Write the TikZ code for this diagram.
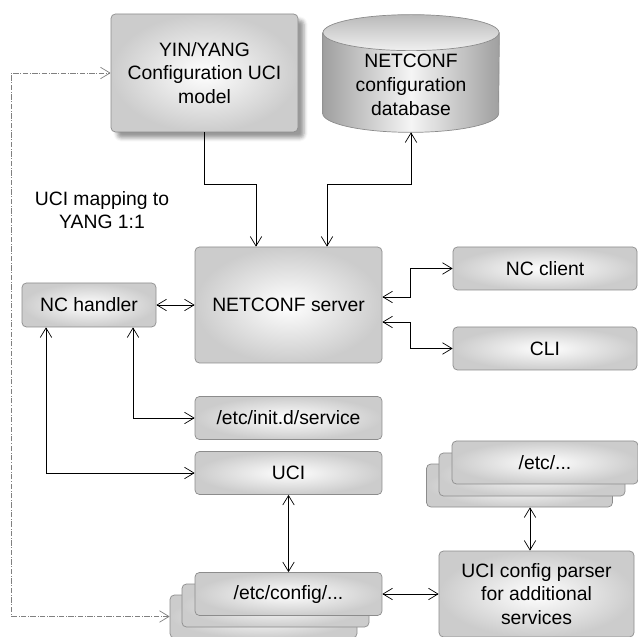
\documentclass[tikz,border=0pt]{standalone}
\usepackage{fontspec}
\setmainfont{Liberation Sans}
\usetikzlibrary{positioning,arrows.meta,backgrounds,shadows.blur}
\tikzstyle{bx}=[draw=gray!90, rounded corners=2.5pt, shade, inner color=white, outer color=gray!40, align=center, font=\fontsize{11}{13.5}\selectfont]
\tikzstyle{wide}=[minimum width=3.74cm, minimum height=0.86cm]
\tikzstyle{dbbody}=[draw=gray!90, left color=gray!75, right color=gray!75, middle color=gray!8]

\begin{document}
\begin{tikzpicture}[auto,>={Straight Barb[length=1.9mm,width=2.3mm]}, thin]
\useasboundingbox (0,0) rectangle (12.76,-12.74);

\node[bx, minimum width=3.74cm, minimum height=2.36cm, blur shadow={shadow xshift=1.2mm, shadow yshift=-1.2mm}] (yin) at (4.09,-1.46) {YIN/YANG\\Configuration UCI\\model};
\node[minimum width=3.52cm, minimum height=1.88cm, align=center, font=\fontsize{11}{13.5}\selectfont] (db) at (8.22,-1.7) {NETCONF\\configuration\\database};
% database drum
\begin{scope}[on background layer]
\path[dbbody] ([yshift=0.1cm]db.north west) -- ([yshift=0.38cm]db.south west) arc[start angle=180, end angle=360, x radius=1.76cm, y radius=0.38cm] -- ([yshift=0.1cm]db.north east) -- cycle;
\path[draw=gray!90, top color=gray!55, bottom color=gray!12] ([yshift=0.1cm]db.north) ellipse (1.76cm and 0.36cm);
\end{scope}
\node[align=center, font=\fontsize{11}{13.5}\selectfont] (map) at (2.04,-4.2) {UCI mapping to\\YANG 1:1};

\node[bx, minimum width=3.74cm, minimum height=2.32cm] (server) at (5.77,-6.1) {NETCONF server};
\node[bx, minimum width=2.68cm, minimum height=0.88cm] (handler) at (1.78,-6.1) {NC handler};
\node[bx, minimum width=3.68cm, minimum height=0.86cm] (client) at (10.9,-5.37) {NC client};
\node[bx, minimum width=3.68cm, minimum height=0.86cm] (cli) at (10.9,-6.97) {CLI};

\node[bx, wide] (initd) at (5.77,-8.36) {/etc/init.d/service};
\node[bx, wide] (uci) at (5.77,-9.46) {UCI};

% stacked files
\node[bx, wide] (cfgc) at (5.27,-12.33) {};
\node[bx, wide] (cfgb) at (5.51,-12.11) {};
\node[bx, wide] (cfg) at (5.77,-11.88) {/etc/config/...};

\node[bx, wide, minimum width=3.72cm] (etcc) at (10.39,-9.71) {};
\node[bx, wide, minimum width=3.72cm] (etcb) at (10.64,-9.49) {};
\node[bx, wide, minimum width=3.72cm] (etc) at (10.9,-9.25) {/etc/...};

\node[bx, minimum width=3.9cm, minimum height=1.72cm] (parser) at (10.73,-11.88) {UCI config parser\\for additional\\services};

\draw[->] (yin.south) -- ++(0,-1.04) -| ([xshift=-0.65cm]server.north);
\draw[<->] (db.south) -- ++(0,-1.04) -| ([xshift=0.77cm]server.north);
\draw[<->] (handler.east) -- (server.west);
\draw[<->] ([yshift=0.16cm]server.east) -- ++(0.56,0) |- (client.west);
\draw[<->] ([yshift=-0.34cm]server.east) -- ++(0.56,0) |- (cli.west);
\draw[<->] ([xshift=0.88cm]handler.south) |- (initd.west);
\draw[<->] ([xshift=-0.86cm]handler.south) |- (uci.west);
\draw[<->] (uci.south) -- (cfg.north);
\draw[<->] (cfg.east) -- (parser.west);
\draw[<->] ([xshift=-0.13cm]parser.north) -- ([xshift=-0.13cm]parser.north |- etcc.south);
\draw[<->, gray, densely dashdotted] (cfgc.west) -- ++(-3.16,0) |- (yin.west);

\end{tikzpicture}
\end{document}
